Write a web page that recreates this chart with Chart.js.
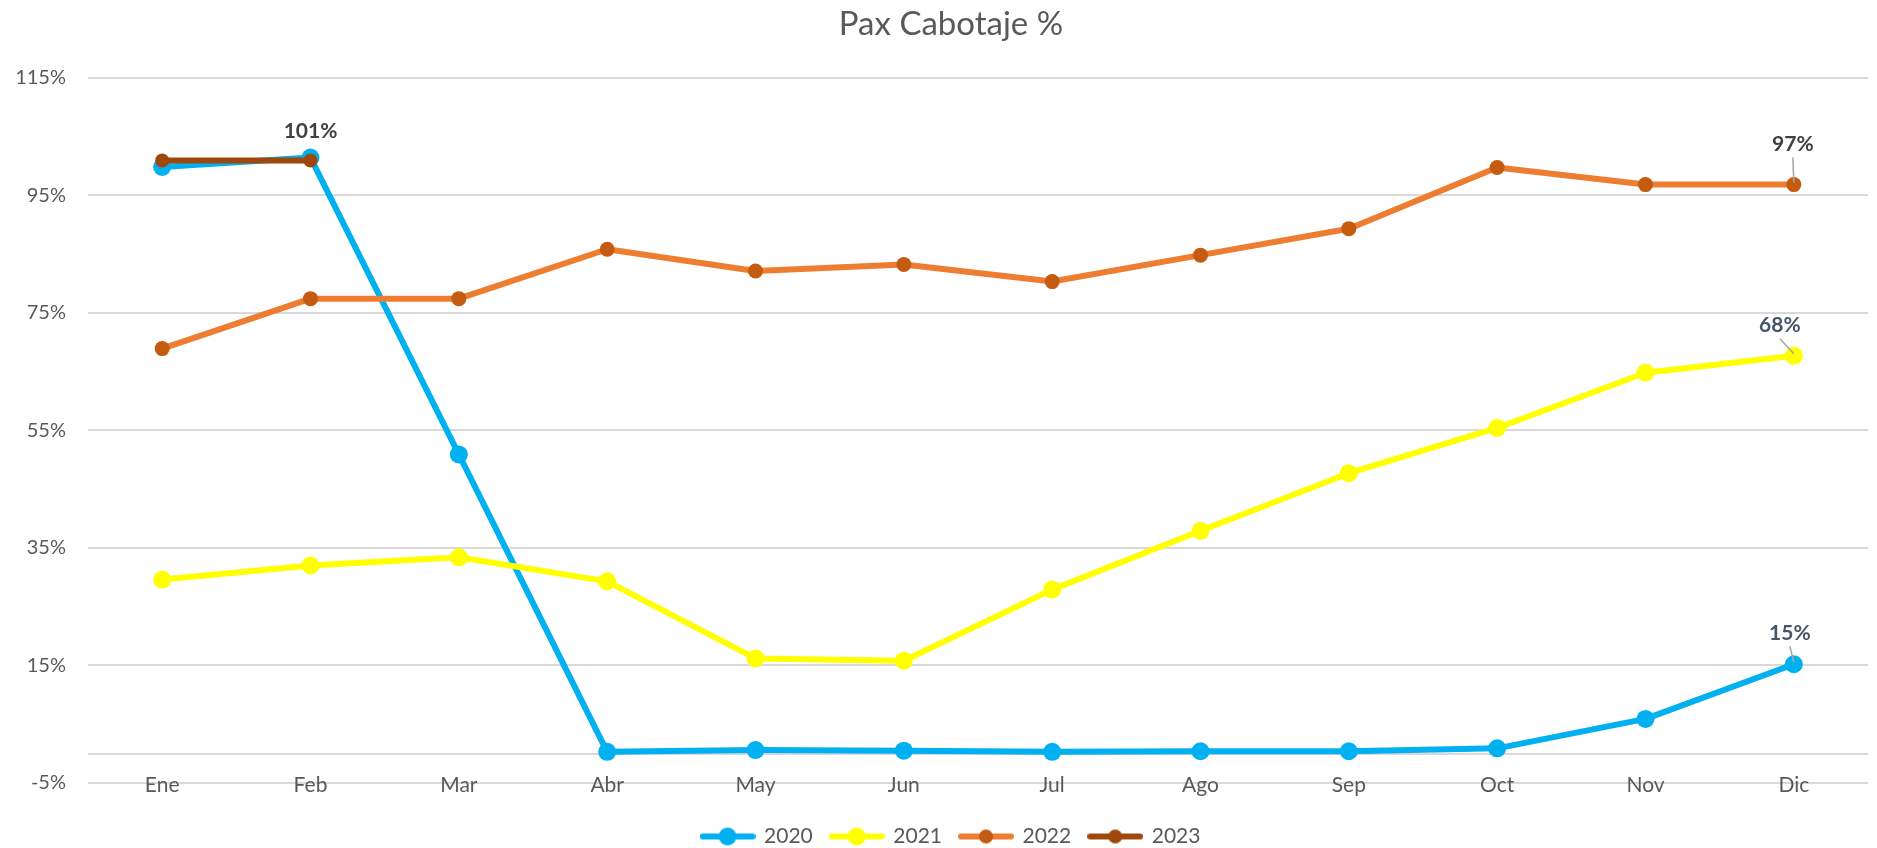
<!DOCTYPE html>
<html>
<head>
<meta charset="utf-8">
<script src="https://cdn.jsdelivr.net/npm/chart.js@4/dist/chart.umd.min.js"></script>
<style>
  body { margin: 0; background: #fff; }
  #wrap { width: 1877px; height: 848px; }
</style>
</head>
<body>
<div id="wrap"><canvas id="chart" width="1877" height="848"></canvas></div>
<script>
// datos
const meses = ['Ene', 'Feb', 'Mar', 'Abr', 'May', 'Jun', 'Jul', 'Ago', 'Sep', 'Oct', 'Nov', 'Dic'];
const pax2020 = [99.8, 101.4, 50.9, 0.3, 0.6, 0.5, 0.3, 0.4, 0.4, 0.9, 5.9, 15.2];
const pax2021 = [29.6, 32.0, 33.4, 29.3, 16.2, 15.8, 27.9, 37.9, 47.7, 55.4, 64.8, 67.7];
const pax2022 = [68.9, 77.4, 77.4, 85.8, 82.1, 83.2, 80.3, 84.8, 89.3, 99.7, 96.8, 96.8];
const pax2023 = [100.9, 100.9];
const yTicks = [-5, 15, 35, 55, 75, 95, 115];

const gris = '#595959';
const fuente = 'Lato, "Noto Sans", sans-serif';

// icono de leyenda: linea con marcador
function iconoLeyenda(lineColor, dotColor, r) {
    const c = document.createElement('canvas');
    c.width = 56; c.height = 22;
    const g = c.getContext('2d');
    g.strokeStyle = lineColor;
    g.lineWidth = 6;
    g.lineCap = 'round';
    g.beginPath(); g.moveTo(3, 11); g.lineTo(53, 11); g.stroke();
    g.fillStyle = dotColor;
    g.beginPath(); g.arc(28, 11, r, 0, Math.PI * 2); g.fill();
    return c;
}

// etiquetas de datos con linea guia
const etiquetas = [
    { ds: 0, i: 1, text: '101%', color: '#404040', dx: 0, dy: -26, guia: false },
    { ds: 2, i: 11, text: '97%', color: '#404040', dx: -1, dy: -40, guia: true },
    { ds: 1, i: 11, text: '68%', color: '#44546A', dx: -14, dy: -30, guia: true },
    { ds: 0, i: 11, text: '15%', color: '#44546A', dx: -4, dy: -31, guia: true }
];

const etiquetasPlugin = {
    id: 'etiquetas',
    afterDatasetsDraw(chart) {
        const ctx = chart.ctx;
        ctx.save();
        etiquetas.forEach(e => {
            const pt = chart.getDatasetMeta(e.ds).data[e.i];
            const tx = pt.x + e.dx, ty = pt.y + e.dy;
            if (e.guia) {
                ctx.strokeStyle = '#A6A6A6';
                ctx.lineWidth = 1.5;
                ctx.beginPath();
                ctx.moveTo(tx, ty + 13);
                ctx.lineTo(pt.x, pt.y - 2);
                ctx.stroke();
            }
            ctx.fillStyle = e.color;
            ctx.font = 'bold 21px ' + fuente;
            ctx.textAlign = 'center';
            ctx.textBaseline = 'middle';
            ctx.fillText(e.text, tx, ty);
        });
        ctx.restore();
    }
};

const iconos = [
    iconoLeyenda('#00B0F0', '#00B0F0', 9),
    iconoLeyenda('#FFFF00', '#FFFF00', 9),
    iconoLeyenda('#ED7D31', '#C55A11', 7),
    iconoLeyenda('#9E480E', '#9E480E', 7)
];

new Chart(document.getElementById('chart').getContext('2d'), {
    type: 'line',
    data: {
        labels: meses,
        datasets: [
            { label: '2020', data: pax2020, borderColor: '#00B0F0', backgroundColor: '#00B0F0',
              pointBackgroundColor: '#00B0F0', pointRadius: 9, order: 4 },
            { label: '2021', data: pax2021, borderColor: '#FFFF00', backgroundColor: '#FFFF00',
              pointBackgroundColor: '#FFFF00', pointRadius: 9, order: 3 },
            { label: '2022', data: pax2022, borderColor: '#ED7D31', backgroundColor: '#ED7D31',
              pointBackgroundColor: '#C55A11', pointRadius: 7.5, order: 2 },
            { label: '2023', data: pax2023, borderColor: '#9E480E', backgroundColor: '#9E480E',
              pointBackgroundColor: '#9E480E', pointRadius: 7, order: 1 }
        ]
    },
    options: {
        responsive: false,
        animation: false,
        // el titulo y la leyenda van algo corridos a la derecha, como en Excel
        layout: { padding: { left: 0, right: -25, top: 0, bottom: -9 } },
        datasets: {
            line: { borderWidth: 6, pointBorderWidth: 0, pointHoverBorderWidth: 0 }
        },
        elements: {
            line: { tension: 0, borderCapStyle: 'round', borderJoinStyle: 'round' }
        },
        scales: {
            x: {
                offset: true,
                grid: { display: false, drawTicks: false },
                border: { display: false },
                ticks: { color: gris, font: { family: fuente, size: 21 }, mirror: true, padding: -15 },
                afterFit(scale) { scale.height = 25; }
            },
            y: {
                min: -5,
                max: 115,
                afterBuildTicks(scale) {
                    scale.ticks = yTicks.concat([0]).sort((a, b) => a - b).map(v => ({ value: v }));
                },
                afterFit(scale) { scale.width = 88; },
                grid: { color: '#D9D9D9', lineWidth: 2, drawTicks: false },
                border: { display: false },
                ticks: {
                    color: gris,
                    padding: 22,
                    font: { family: fuente, size: 20 },
                    callback: v => (yTicks.includes(v) ? v + '%' : '')
                }
            },
            // eje vacio a la derecha, solo reserva espacio
            yDer: {
                position: 'right',
                grid: { display: false, drawTicks: false },
                border: { display: false },
                ticks: { display: false },
                afterFit(scale) { scale.width = 30; }
            }
        },
        plugins: {
            title: {
                display: true,
                text: 'Pax Cabotaje %',
                color: gris,
                font: { family: fuente, size: 33, weight: 'normal' },
                padding: { top: 5, bottom: 33 }
            },
            legend: {
                position: 'bottom',
                labels: {
                    color: gris,
                    font: { family: fuente, size: 21 },
                    usePointStyle: true,
                    pointStyleWidth: 52,
                    padding: 18,
                    sort: (a, b) => a.datasetIndex - b.datasetIndex,
                    generateLabels(chart) {
                        const items = Chart.defaults.plugins.legend.labels.generateLabels(chart);
                        items.forEach(it => { it.pointStyle = iconos[it.datasetIndex]; });
                        return items;
                    }
                }
            },
            tooltip: { enabled: false }
        }
    },
    plugins: [etiquetasPlugin]
});
</script>
</body>
</html>
